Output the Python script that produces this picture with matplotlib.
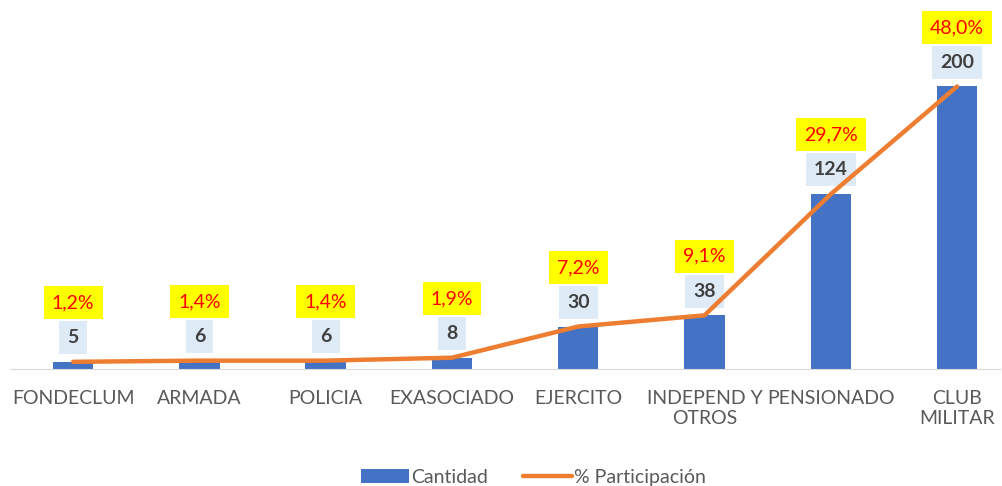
import matplotlib.pyplot as plt

plt.rcParams['font.family'] = ['Lato', 'DejaVu Sans']

categorias = ["FONDECLUM", "ARMADA", "POLICIA", "EXASOCIADO", "EJERCITO",
              "INDEPEND Y\nOTROS", "PENSIONADO", "CLUB\nMILITAR"]
cantidad = [5, 6, 6, 8, 30, 38, 124, 200]
participacion = [1.2, 1.4, 1.4, 1.9, 7.2, 9.1, 29.7, 48.0]

azul = "#4472C4"
naranja = "#ED7D31"

fig = plt.figure(figsize=(10.02, 4.86), dpi=100)
ax = fig.add_axes([0.01, 0.241, 0.988, 0.738])
ax2 = ax.twinx()

x = range(len(categorias))
ax.bar(x, cantidad, width=0.32, color=azul, label="Cantidad", zorder=2)
ymax = 254
ax.set_ylim(0, ymax)
ax.set_xlim(-0.5, 7.34)

ax2.plot(x, participacion, color=naranja, lw=3.2, solid_capstyle="round",
         label="% Participación", zorder=3)
ax2.set_ylim(0, ymax * participacion[-1] / cantidad[-1])

for a in (ax, ax2):
    for s in ["top", "right", "left"]:
        a.spines[s].set_visible(False)
    a.set_yticks([])
ax2.spines["bottom"].set_visible(False)
ax.spines["bottom"].set_color("#D9D9D9")
ax.set_xticks(list(x))
ax.set_xticklabels(categorias, fontsize=14, color="#595959")
ax.tick_params(axis="x", length=0, pad=15)

for i, (c, p) in enumerate(zip(cantidad, participacion)):
    ax.annotate(str(c), (i, c), xytext=(0, 24), textcoords="offset pixels",
                ha="center", va="center", fontsize=14, fontweight="bold",
                color="#404040", zorder=5,
                bbox=dict(boxstyle="square,pad=0.42", fc="#DEEBF7", ec="none"))
    ax.annotate(f"{p:.1f}%".replace(".", ","), (i, c), xytext=(0, 59),
                textcoords="offset pixels", ha="center", va="center",
                fontsize=14, color="#FF0000", zorder=5,
                bbox=dict(boxstyle="square,pad=0.42", fc="#FFFF00", ec="none"))

h1, l1 = ax.get_legend_handles_labels()
h2, l2 = ax2.get_legend_handles_labels()
fig.legend(h1 + h2, l1 + l2, loc="lower center", ncol=2, frameon=False,
           fontsize=14, labelcolor="#595959", bbox_to_anchor=(0.532, -0.035),
           handlelength=2.5, columnspacing=1.8, handletextpad=0.1)

fig.savefig("out.png", dpi=100)
